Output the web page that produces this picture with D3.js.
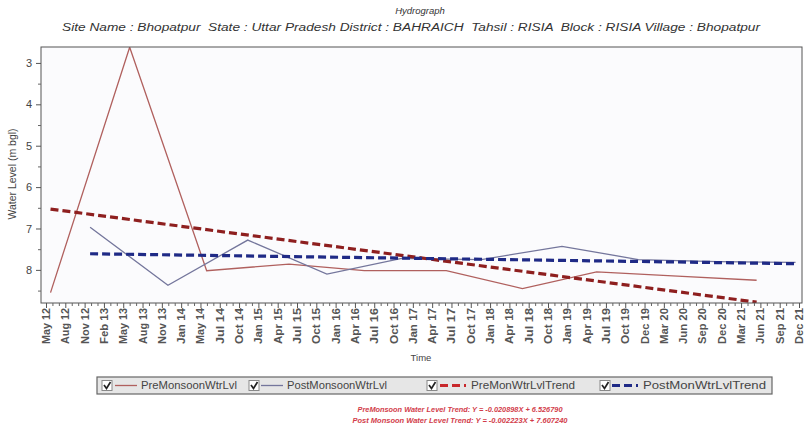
<!DOCTYPE html>
<html><head><meta charset="utf-8">
<script src="https://cdn.jsdelivr.net/npm/d3@7"></script>
<style>
body{margin:0;background:#fff}
svg{display:block;font-family:"Liberation Sans",Arial,sans-serif}
</style>
</head><body>
<svg id="c" width="808" height="442"></svg>
<script>
// ---------- data ----------
const chartTitle = "Hydrograph";
const chartSubtitle = "Site Name : Bhopatpur  State : Uttar Pradesh District : BAHRAICH  Tahsil : RISIA  Block : RISIA Village : Bhopatpur";
const yAxisTitle = "Water Level (m bgl)";
const xAxisTitle = "Time";
const tickLabels = ["May 12","Aug 12","Nov 12","Feb 13","May 13","Aug 13","Nov 13","Jan 14","May 14","Jul 14",
  "Oct 14","Jan 15","Apr 15","Jul 15","Oct 15","Jan 16","Apr 16","Jul 16","Oct 16","Jan 17",
  "Apr 17","Jul 17","Oct 17","Jan 18","Apr 18","Jul 18","Oct 18","Jan 19","Apr 19","Jul 19",
  "Oct 19","Dec 19","Mar 20","Jun 20","Sep 20","Dec 20","Mar 21","Jun 21","Sep 21","Dec 21"];
const yTicks = [3,4,5,6,7,8];
const preDates  = ["2012-05-22","2013-05-25","2014-05-18","2015-06-05","2016-05-20","2017-06-05","2018-05-25","2019-05-05","2020-05-15","2021-05-18"];
const preValues = [8.55, 2.62, 8.02, 7.86, 8.02, 8.02, 8.45, 8.05, 8.15, 8.25];
const postDates  = ["2012-11-22","2013-11-19","2014-11-25","2015-11-28","2016-11-10","2017-11-15","2018-11-25","2019-11-15","2020-11-15","2021-11-15"];
const postValues = [6.97, 8.37, 7.28, 8.10, 7.72, 7.75, 7.43, 7.75, 7.80, 7.82];
const preTrendDates  = ["2012-05-22","2021-05-18"];
const preTrendValues = [6.53, 8.78];
const postTrendDates  = ["2012-11-22","2021-11-15"];
const postTrendValues = [7.61, 7.85];
const legendLabels = ["PreMonsoonWtrLvl","PostMonsoonWtrLvl","PreMonWtrLvlTrend","PostMonWtrLvlTrend"];
const equations = ["PreMonsoon Water Level Trend: Y = -0.020898X + 6.526790",
                   "Post Monsoon Water Level Trend: Y = -0.002223X + 7.607240"];

// ---------- styles ----------
const colPre = "#b0605e", colPost = "#74769c", colPreT = "#8e1f1f", colPostT = "#1f2a86";
const colPreTLeg = "#c8282c";
const svg = d3.select("#c");
const P = {l:41, r:802, t:47, b:303};
const parse = d3.timeParse("%Y-%m-%d");

const x = d3.scaleTime().domain([new Date(2012,4,1), new Date(2021,11,1)]).range([46, 799]);
const xi = d3.scaleLinear().domain([0, tickLabels.length-1]).range([46, 799]);
const y = d3.scaleLinear().domain([2.615, 8.8]).range([P.t, P.b]);

// titles
svg.append("text").attr("x",420).attr("y",14).attr("text-anchor","middle")
  .attr("font-size",9.5).attr("font-style","italic").attr("fill","#333").text(chartTitle);
svg.append("text").attr("x",411).attr("y",31).attr("text-anchor","middle")
  .style("white-space","pre").attr("xml:space","preserve")
  .attr("font-size",10).attr("font-style","italic").attr("fill","#333")
  .attr("textLength",698).attr("lengthAdjust","spacingAndGlyphs").text(chartSubtitle);

// plot background
svg.append("rect").attr("x",P.l).attr("y",P.t).attr("width",P.r-P.l).attr("height",P.b-P.t)
  .attr("fill","#fbfbfd");

// clip
svg.append("clipPath").attr("id","clip").append("rect")
  .attr("x",P.l).attr("y",P.t).attr("width",P.r-P.l).attr("height",P.b-P.t);
const g = svg.append("g").attr("clip-path","url(#clip)");

const line = d3.line().x(d=>x(d[0])).y(d=>y(d[1]));
const zip = (ds, vs) => ds.map((d,i)=>[parse(d), vs[i]]);

g.append("path").datum(zip(preDates,preValues)).attr("d",line)
  .attr("fill","none").attr("stroke",colPre).attr("stroke-width",1.3);
g.append("path").datum(zip(postDates,postValues)).attr("d",line)
  .attr("fill","none").attr("stroke",colPost).attr("stroke-width",1.3);
g.append("path").datum(zip(preTrendDates,preTrendValues)).attr("d",line)
  .attr("fill","none").attr("stroke",colPreT).attr("stroke-width",3.2).attr("stroke-dasharray","8,4");
g.append("path").datum(zip(postTrendDates,postTrendValues)).attr("d",line)
  .attr("fill","none").attr("stroke",colPostT).attr("stroke-width",3.2).attr("stroke-dasharray","8,4");

// frame
svg.append("rect").attr("x",P.l).attr("y",P.t).attr("width",P.r-P.l).attr("height",P.b-P.t)
  .attr("fill","none").attr("stroke","#555").attr("stroke-width",1);

// y axis
const ya = svg.append("g").attr("transform",`translate(${P.l},0)`)
  .call(d3.axisLeft(y).tickValues(yTicks).tickSize(5).tickPadding(4).tickFormat(d3.format("d")));
ya.select(".domain").remove();
ya.selectAll("text").attr("font-size",11).attr("fill","#444").attr("font-family","Liberation Sans, Arial, sans-serif");
ya.selectAll("line").attr("stroke","#555");
const yMinor = d3.range(3, 8.8, 0.5).filter(v=>!yTicks.includes(v));
const yam = svg.append("g").attr("transform",`translate(${P.l},0)`)
  .call(d3.axisLeft(y).tickValues(yMinor).tickSize(3).tickFormat(""));
yam.select(".domain").remove();
yam.selectAll("line").attr("stroke","#666");

svg.append("text").attr("transform","translate(16,174) rotate(-90)")
  .attr("text-anchor","middle").attr("font-size",10.5).attr("fill","#444").text(yAxisTitle);

// x axis
const xa = svg.append("g").attr("transform",`translate(0,${P.b})`)
  .call(d3.axisBottom(xi).tickValues(d3.range(tickLabels.length)).tickSize(5)
    .tickFormat(i=>tickLabels[i]));
xa.select(".domain").remove();
xa.selectAll("line").attr("stroke","#555");
xa.selectAll("text")
  .attr("transform","rotate(-90)").attr("text-anchor","end")
  .attr("x",-5).attr("y",0).attr("dy","0.35em")
  .attr("font-size",10).attr("font-weight","bold").attr("fill","#555")
  .attr("font-family","Liberation Sans, Arial, sans-serif")
  .attr("textLength",36).attr("lengthAdjust","spacingAndGlyphs");
const xMinor = d3.range(0, tickLabels.length-1, 1/3).filter((v,i)=>i%3!==0);
const xam = svg.append("g").attr("transform",`translate(0,${P.b})`)
  .call(d3.axisBottom(xi).tickValues(xMinor).tickSize(3).tickFormat(""));
xam.select(".domain").remove();
xam.selectAll("line").attr("stroke","#666");

svg.append("text").attr("x",421).attr("y",361).attr("text-anchor","middle")
  .attr("font-size",9.5).attr("fill","#444").text(xAxisTitle);

// legend
const L = {x:97, y:377, w:675, h:17};
svg.append("rect").attr("x",L.x).attr("y",L.y).attr("width",L.w).attr("height",L.h)
  .attr("fill","#e6e6e6").attr("stroke","#666").attr("stroke-width",1.2);
const legItems = [
  {cb:102, l0:115, l1:137, tx:141, col:colPre,  w:1.3, dash:null, tw:96},
  {cb:249, l0:261, l1:283, tx:287, col:colPost, w:1.3, dash:null, tw:100},
  {cb:427, l0:440, l1:466, tx:471, col:colPreTLeg, w:3, dash:"8,4", tw:104},
  {cb:600, l0:612, l1:638, tx:643, col:colPostT, w:3, dash:"8,4", tw:123}
];
legItems.forEach((it,i)=>{
  const cy = L.y + L.h/2;
  svg.append("rect").attr("x",it.cb).attr("y",cy-5).attr("width",10).attr("height",10)
    .attr("fill","#fff").attr("stroke","#888");
  svg.append("path").attr("d",`M${it.cb+2},${cy-0.5} L${it.cb+4.5},${cy+3} L${it.cb+8.5},${cy-3.5}`)
    .attr("fill","none").attr("stroke","#222").attr("stroke-width",1.7);
  const ln = svg.append("line").attr("x1",it.l0).attr("x2",it.l1).attr("y1",cy).attr("y2",cy)
    .attr("stroke",it.col).attr("stroke-width",it.w);
  if (it.dash) ln.attr("stroke-dasharray",it.dash);
  svg.append("text").attr("x",it.tx).attr("y",cy+3.5).attr("font-size",10).attr("fill","#444")
    .attr("textLength",it.tw).attr("lengthAdjust","spacingAndGlyphs").text(legendLabels[i]);
});

// equations
equations.forEach((t,i)=>{
  svg.append("text").attr("x",460).attr("y",412+i*11).attr("text-anchor","middle")
    .attr("font-size",7.5).attr("font-style","italic").attr("font-weight","bold")
    .attr("fill","#d23c4a").attr("textLength",i===0?205:215).attr("lengthAdjust","spacingAndGlyphs").text(t);
});
</script>
</body></html>
